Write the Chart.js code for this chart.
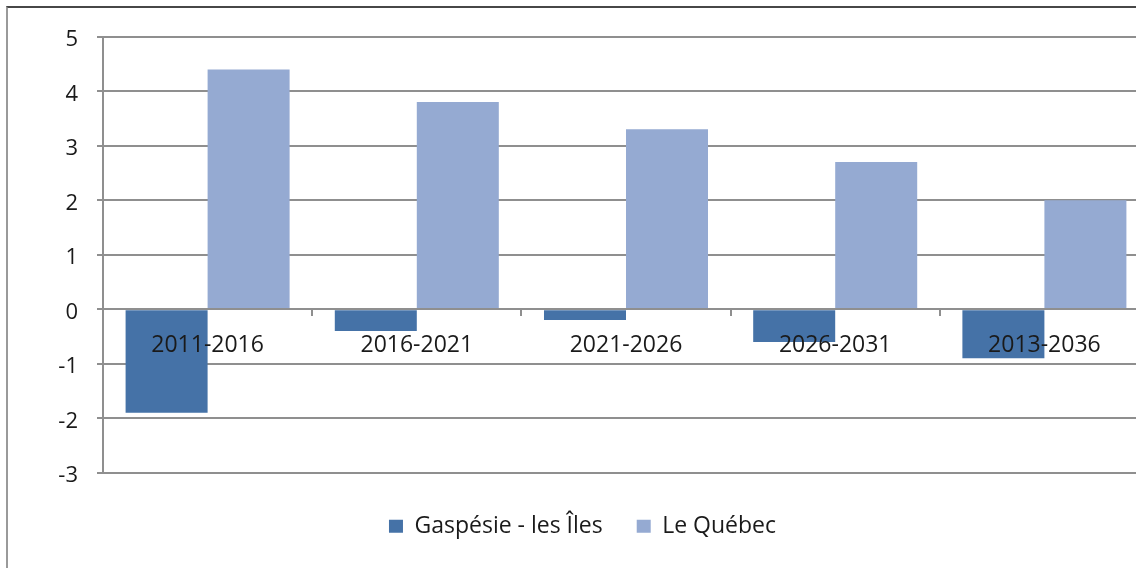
<!DOCTYPE html>
<html>
<head>
<meta charset="utf-8">
<script src="https://cdn.jsdelivr.net/npm/chart.js@4/dist/chart.umd.min.js"></script>
<style>
  html, body { margin: 0; padding: 0; background: #fff; overflow: hidden; width: 1136px; height: 568px; }
  #frame { position: absolute; left: 6px; top: 6px; width: 1200px; height: 600px;
           border-top: 2px solid #474747; border-left: 2px solid #9a9a9a; }
  #c { position: absolute; left: 0; top: 0; }
</style>
</head>
<body>
<div id="frame"><canvas id="c" width="1160" height="560"></canvas></div>
<script>
const categories = ['2011-2016', '2016-2021', '2021-2026', '2026-2031', '2013-2036'];
const gaspesie = [-1.9, -0.4, -0.2, -0.6, -0.9];
const quebec = [4.4, 3.8, 3.3, 2.7, 2.0];
const seriesNames = ['Gaspésie - les Îles', 'Le Québec'];
const yMin = -3, yMax = 5, yStep = 1;

const FONT = "'Open Sans', 'DejaVu Sans', sans-serif";
const GRID = '#8f8f8f';
const TEXT = '#1a1a1a';

new Chart(document.getElementById('c'), {
  type: 'bar',
  data: {
    labels: categories,
    datasets: [
      { label: seriesNames[0], data: gaspesie, backgroundColor: '#4572a7', borderWidth: 0 },
      { label: seriesNames[1], data: quebec, backgroundColor: '#95aad2', borderWidth: 0 }
    ]
  },
  options: {
    responsive: false,
    animation: false,
    devicePixelRatio: 1,
    layout: { padding: { left: 8, right: 19, top: 28.7, bottom: 20.3 } },
    datasets: { bar: { categoryPercentage: 0.784, barPercentage: 1.0 } },
    scales: {
      x: {
        position: { y: 0 },
        grid: { display: true, drawOnChartArea: false, drawTicks: true, tickLength: 6, color: GRID, lineWidth: 2, offset: true, z: 1 },
        border: { display: true, color: GRID, width: 2, z: 1 },
        ticks: { color: TEXT, font: { family: FONT, size: 23 }, padding: 16, maxRotation: 0, autoSkip: false, z: 2 }
      },
      y: {
        min: yMin, max: yMax,
        afterFit: (s) => { s.width = 87; },
        grid: { color: GRID, lineWidth: 2, tickLength: 6, drawTicks: true },
        border: { display: true, color: GRID, width: 2 },
        ticks: {
          stepSize: yStep, color: TEXT, font: { family: FONT, size: 22, lineHeight: 0.3 }, padding: 19,
          // second line of the label sits slightly below the gridline, like the original
          callback: (v) => ['', String(v)]
        }
      }
    },
    plugins: {
      tooltip: { enabled: false },
      legend: {
        position: 'bottom',
        title: { display: true, text: '', font: { size: 1, lineHeight: 1 }, padding: { top: 7, bottom: 0 } },
        labels: { color: TEXT, font: { family: FONT, size: 23 }, boxWidth: 14, boxHeight: 13, padding: 34 }
      }
    }
  }
});
</script>
</body>
</html>
